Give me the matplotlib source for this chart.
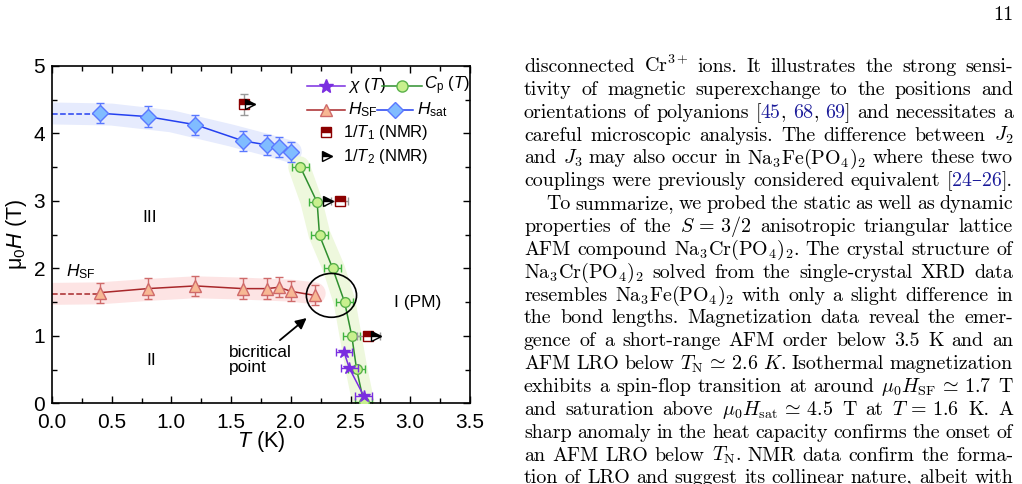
import matplotlib
matplotlib.use('Agg')
import matplotlib.pyplot as plt
import matplotlib.patches as patches
from matplotlib.ticker import MultipleLocator

plt.rcParams['font.family'] = ['Liberation Sans', 'DejaVu Sans']
plt.rcParams['mathtext.fontset'] = 'custom'
plt.rcParams['mathtext.rm'] = 'Liberation Sans'
plt.rcParams['mathtext.it'] = 'Liberation Sans:italic'
plt.rcParams['mathtext.bf'] = 'Liberation Sans:bold'

# ---- data ----
hsat_T = [0.4, 0.8, 1.2, 1.6, 1.8, 1.9, 2.0]
hsat_H = [4.30, 4.25, 4.13, 3.89, 3.83, 3.80, 3.72]
hsat_err = 0.15

hsf_T = [0.4, 0.8, 1.2, 1.6, 1.8, 1.9, 2.0, 2.2]
hsf_H = [1.64, 1.70, 1.74, 1.70, 1.70, 1.72, 1.66, 1.60]
hsf_err = 0.15

cp_T = [2.08, 2.22, 2.24, 2.35, 2.45, 2.51, 2.55, 2.61]
cp_H = [3.50, 2.98, 2.49, 2.00, 1.50, 1.00, 0.51, 0.02]
cp_xerr = 0.07

chi_T = [2.445, 2.49, 2.61]
chi_H = [0.76, 0.52, 0.11]
chi_xerr = 0.07

t1_T = [1.61, 2.41, 2.65]
t1_H = [4.43, 3.00, 1.00]
t1_xerr = [0.0, 0.07, 0.10]
t1_yerr = [0.15, 0.0, 0.0]

t2_T = [1.66, 2.31, 2.71]
t2_H = [4.43, 3.00, 1.00]

# extrapolations to T = 0
hsat_ext_T = [0.0, 0.4]
hsat_ext_H = [4.29, 4.29]
hsf_ext_T = [0.0, 0.4]
hsf_ext_H = [1.62, 1.62]

band_sat_T = [-0.1, 0.5, 1.0, 1.5, 1.8, 2.0]
band_sat_H = [4.30, 4.28, 4.18, 3.97, 3.83, 3.73]
band_sf_T = [-0.1, 0.4, 0.8, 1.2, 1.6, 2.0, 2.2]
band_sf_H = [1.62, 1.63, 1.68, 1.72, 1.70, 1.67, 1.63]
band_cp_T = [2.07, 2.17, 2.24, 2.36, 2.45, 2.50, 2.55, 2.62]
band_cp_H = [3.50, 3.00, 2.50, 2.00, 1.50, 1.00, 0.50, -0.10]

W, H = 1022, 484
fig = plt.figure(figsize=(W / 100, H / 100), dpi=100)
ax = fig.add_axes([52 / W, 1 - 403.3 / H, 418 / W, 337.3 / H])

c_sat, c_sat_f, c_sat_e = '#2440f0', '#80bcff', '#5a78ff'
c_sf, c_sf_f, c_sf_e = '#a8272a', '#f7b894', '#cf6a6a'
c_cp, c_cp_f, c_cp_e = '#2f8f2f', '#c8f08e', '#3fb43f'
c_chi = '#7a2ee0'
c_t1 = '#8b0000'

# bands
ax.plot(band_sat_T, band_sat_H, color='#e6ebfd', lw=15.8, solid_capstyle='round', zorder=0)
ax.plot(band_sf_T, band_sf_H, color='#fde4e4', lw=15.8, solid_capstyle='round', zorder=0)
ax.plot(band_cp_T, band_cp_H, color='#eef8dd', lw=15.8, solid_capstyle='round', zorder=0)

ax.plot(hsat_ext_T, hsat_ext_H, '--', color=c_sat, lw=1.1, zorder=2)
ax.plot(hsf_ext_T, hsf_ext_H, '--', color=c_sf, lw=1.1, zorder=2)

ax.errorbar(hsat_T, hsat_H, yerr=hsat_err, fmt='none', ecolor=c_sat_e, elinewidth=1, capsize=3, zorder=2)
ax.plot(hsat_T, hsat_H, '-D', color=c_sat, mfc=c_sat_f, mec=c_sat_e, ms=8, lw=1.1, zorder=3)

ax.errorbar(hsf_T, hsf_H, yerr=hsf_err, fmt='none', ecolor=c_sf_e, elinewidth=1, capsize=3, zorder=2)
ax.plot(hsf_T, hsf_H, '-^', color=c_sf, mfc=c_sf_f, mec=c_sf_e, ms=8.5, lw=1.1, zorder=3)

ax.errorbar(cp_T, cp_H, xerr=cp_xerr, fmt='none', ecolor=c_cp_e, elinewidth=1, capsize=3, zorder=2)
ax.plot(cp_T, cp_H, '-o', color=c_cp, mfc=c_cp_f, mec='#5ab14a', ms=7, lw=1.1, zorder=3)

ax.errorbar(chi_T, chi_H, xerr=chi_xerr, fmt='none', ecolor=c_chi, elinewidth=1, capsize=3, zorder=4)
ax.plot(chi_T, chi_H, '-*', color=c_chi, mfc=c_chi, mec=c_chi, ms=9, lw=1.1, zorder=4)

ax.errorbar(t1_T, t1_H, xerr=t1_xerr, yerr=t1_yerr, fmt='none', ecolor='#999999', elinewidth=1, capsize=3, zorder=4)
ax.plot(t1_T, t1_H, 's', ls='none', fillstyle='top', color=c_t1, mfc=c_t1, mfcalt='white', mec=c_t1, ms=6.5, zorder=5)
ax.plot(t2_T, t2_H, '>', ls='none', fillstyle='top', color='black', mfc='black', mfcalt='white', mec='black', ms=6.5, zorder=5)

# bicritical point
ax.add_patch(patches.Ellipse((2.34, 1.60), 0.42, 0.65, fill=False, ec='black', lw=1.2, zorder=6))
ax.annotate('', xy=(2.15, 1.29), xytext=(1.89, 0.91),
            arrowprops=dict(arrowstyle='-|>', color='black', lw=1.3, mutation_scale=16), zorder=6)
ax.text(1.48, 0.64, 'bicritical\npoint', fontsize=12.5, ha='left', va='center', linespacing=1.05)
ax.text(0.82, 2.75, 'III', fontsize=12.5, ha='center', va='center')
ax.text(0.83, 0.64, 'II', fontsize=12.5, ha='center', va='center')
ax.text(3.06, 1.50, 'I (PM)', fontsize=12.5, ha='center', va='center')
ax.text(0.12, 1.95, r'$H_{\rm SF}$', fontsize=12.5, ha='left', va='center')

# legend drawn by hand
tr = ax.transAxes
lg = dict(transform=tr, clip_on=False, zorder=7)
def handle(x0, x1, y, color, marker, mfc, mec, ms):
    ax.plot([x0, x1], [y, y], '-', color=color, lw=1.1, **lg)
    ax.plot([(x0 + x1) / 2], [y], marker, color=color, mfc=mfc, mec=mec, ms=ms, **lg)

handle(0.609, 0.701, 0.941, c_chi, '*', c_chi, c_chi, 10)
ax.text(0.708, 0.941, r'$\chi\ (T)$', fontsize=12.5, va='center', transform=tr)
handle(0.790, 0.886, 0.941, c_cp, 'o', c_cp_f, '#5ab14a', 8)
ax.text(0.890, 0.941, r'$C_{\rm p}\ (T)$', fontsize=12, va='center', transform=tr)
handle(0.609, 0.701, 0.870, c_sf, '^', c_sf_f, c_sf_e, 9)
ax.text(0.708, 0.870, r'$H_{\rm SF}$', fontsize=12.5, va='center', transform=tr)
handle(0.777, 0.864, 0.870, c_sat, 'D', c_sat_f, c_sat_e, 8)
ax.text(0.873, 0.870, r'$H_{\rm sat}$', fontsize=12.5, va='center', transform=tr)
ax.plot([0.655], [0.804], 's', fillstyle='top', color=c_t1, mfc=c_t1, mfcalt='white', mec=c_t1, ms=6.5, **lg)
ax.text(0.696, 0.804, r'1/$T_1$ (NMR)', fontsize=12, va='center', transform=tr)
ax.plot([0.658], [0.733], '>', fillstyle='top', color='black', mfc='black', mfcalt='white', mec='black', ms=6.5, **lg)
ax.text(0.696, 0.733, r'1/$T_2$ (NMR)', fontsize=12, va='center', transform=tr)

ax.set_xlim(0, 3.5)
ax.set_ylim(0, 5)
ax.xaxis.set_major_locator(MultipleLocator(0.5))
ax.xaxis.set_minor_locator(MultipleLocator(0.25))
ax.yaxis.set_major_locator(MultipleLocator(1))
ax.yaxis.set_minor_locator(MultipleLocator(0.5))
ax.tick_params(which='both', direction='in', top=True, right=True, width=1)
ax.tick_params(which='major', length=5, labelsize=15)
ax.tick_params(axis='x', which='major', pad=7)
ax.tick_params(axis='y', which='major', pad=5)
ax.tick_params(which='minor', length=3.5)
ax.set_xticklabels([f'{v:.1f}' for v in ax.get_xticks()])
for s in ax.spines.values():
    s.set_linewidth(1.2)
ax.set_xlabel(r'$T$ (K)', fontsize=15.5, labelpad=-2)
ax.set_ylabel(r'μ$_0H$ (T)', fontsize=15.5, labelpad=3)

# ---- body text of the page ----
serif = ['cmr10', 'DejaVu Serif']
cite = '#1c1c9a'
fs = 14.4
renderer = fig.canvas.get_renderer()

body_lines = [
    (524, "disconnected $\\mathrm{Cr}^{3+}$ ions. It illustrates the strong sensi-"),
    (524, "tivity of magnetic superexchange to the positions and"),
    (524, "orientations of polyanions [@45@, @68@, @69@] and necessitates a"),
    (524, "careful microscopic analysis. The difference between $J_2$"),
    (524, "and $J_3$ may also occur in Na$_3$Fe(PO$_4$)$_2$ where these two"),
    (524, "couplings were previously considered equivalent [@24–26@]."),
    (546, "To summarize, we probed the static as well as dynamic"),
    (524, "properties of the $S\\,=\\,3/2$ anisotropic triangular lattice"),
    (524, "AFM compound Na$_3$Cr(PO$_4$)$_2$. The crystal structure of"),
    (524, "Na$_3$Cr(PO$_4$)$_2$ solved from the single-crystal XRD data"),
    (524, "resembles Na$_3$Fe(PO$_4$)$_2$ with only a slight difference in"),
    (524, "the bond lengths. Magnetization data reveal the emer-"),
    (524, "gence of a short-range AFM order below 3.5 K and an"),
    (524, "AFM LRO below $T_{\\rm N}\\,\\simeq\\,2.6\\ K$. Isothermal magnetization"),
    (524, "exhibits a spin-flop transition at around $\\mu_0H_{\\rm SF}\\,\\simeq\\,1.7$ T"),
    (524, "and saturation above $\\mu_0H_{\\rm sat}\\,\\simeq\\,4.5$ T at $T\\,=\\,1.6$ K. A"),
    (524, "sharp anomaly in the heat capacity confirms the onset of"),
    (524, "an AFM LRO below $T_{\\rm N}$. NMR data confirm the forma-"),
    (524, "tion of LRO and suggest its collinear nature, albeit with"),
]


def split_tokens(line):
    toks, cur, inmath = [], '', False
    for ch in line:
        if ch == '$':
            inmath = not inmath
        if ch == ' ' and not inmath:
            if cur:
                toks.append(cur)
            cur = ''
        else:
            cur += ch
    if cur:
        toks.append(cur)
    return toks


def put_line(x0, x1, ybase, line):
    groups = []
    for tok in split_tokens(line):
        items = []
        for i, part in enumerate(tok.split('@')):
            if part == '':
                continue
            t = fig.text(0, 0, part, fontsize=fs, family=serif, math_fontfamily='cm',
                         color=cite if i % 2 else 'black', ha='left', va='baseline')
            items.append((t, t.get_window_extent(renderer).width))
        groups.append(items)
    total = sum(w for g in groups for _, w in g)
    gap = (x1 - x0 - total) / max(len(groups) - 1, 1)
    x = x0
    for g in groups:
        for t, w in g:
            t.set_position((x / W, 1 - ybase / H))
            x += w
        x += gap


for k, (x0, line) in enumerate(body_lines):
    put_line(x0, 1013, 72 + 22.86 * k, line)

fig.text(1013 / W, 1 - 20.5 / H, '11', fontsize=fs, family=serif, ha='right', va='baseline')

fig.savefig('out.png', dpi=100)
